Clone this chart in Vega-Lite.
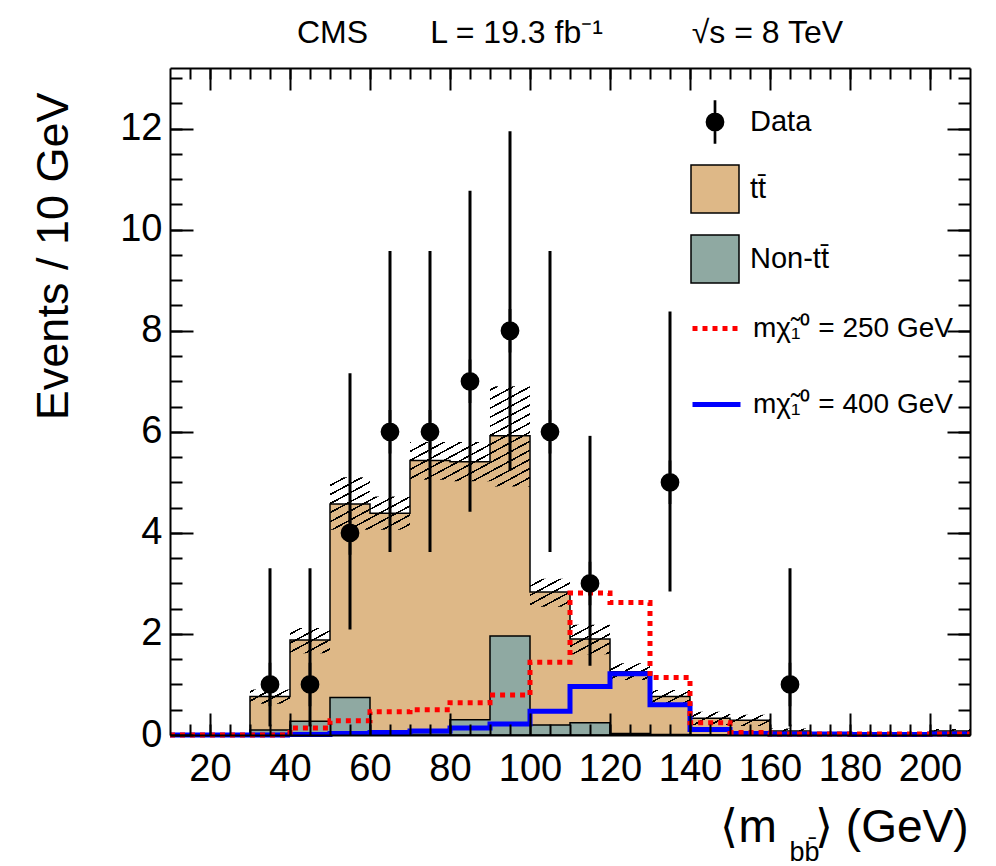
{
  "$schema": "https://vega.github.io/schema/vega-lite/v6.json",
  "width": 800,
  "height": 667,
  "autosize": {"type": "none"},
  "padding": {"left": 170, "top": 68, "right": 26, "bottom": 131},
  "background": "white",
  "config": {
    "view": {"stroke": null},
    "font": "Liberation Sans",
    "axis": {"domainColor": "black", "domainWidth": 2, "tickColor": "black", "tickWidth": 2, "labelFont": "Liberation Sans", "labelColor": "black", "titleColor": "black", "titleFont": "Liberation Sans", "titleFontWeight": "normal", "grid": false, "labelFlush": false, "labelOverlap": false},
    "legend": {"title": null}
  },
  "title": {
    "text": "CMS\u00a0\u00a0\u00a0\u00a0\u00a0\u00a0\u00a0L = 19.3 fb\u207b\u00b9\u00a0\u00a0\u00a0\u00a0\u00a0\u00a0\u00a0\u00a0\u00a0\u00a0\u221as = 8 TeV",
    "anchor": "middle",
    "frame": "group",
    "font": "Liberation Sans",
    "fontSize": 32,
    "fontWeight": "normal",
    "color": "black",
    "baseline": "alphabetic",
    "offset": -8
  },
  "datasets": {
    "hist": [
      {"lo": 10, "total": 0, "nontt": 0, "unc_hi": 0, "unc_lo": 0, "s250": 0, "s400": 0},
      {"lo": 20, "total": 0, "nontt": 0, "unc_hi": 0, "unc_lo": 0, "s250": 0, "s400": 0},
      {"lo": 30, "total": 0.76, "nontt": 0.10, "unc_hi": 0.90, "unc_lo": 0.62, "s250": 0, "s400": 0},
      {"lo": 40, "total": 1.88, "nontt": 0.27, "unc_hi": 2.12, "unc_lo": 1.62, "s250": 0.14, "s400": 0.01},
      {"lo": 50, "total": 4.57, "nontt": 0.74, "unc_hi": 5.10, "unc_lo": 4.06, "s250": 0.28, "s400": 0.03},
      {"lo": 60, "total": 4.39, "nontt": 0.03, "unc_hi": 4.72, "unc_lo": 4.06, "s250": 0.46, "s400": 0.05},
      {"lo": 70, "total": 5.43, "nontt": 0.05, "unc_hi": 5.80, "unc_lo": 5.05, "s250": 0.50, "s400": 0.08},
      {"lo": 80, "total": 5.41, "nontt": 0.30, "unc_hi": 5.80, "unc_lo": 5.02, "s250": 0.64, "s400": 0.14},
      {"lo": 90, "total": 5.92, "nontt": 1.96, "unc_hi": 6.90, "unc_lo": 4.92, "s250": 0.79, "s400": 0.22},
      {"lo": 100, "total": 2.83, "nontt": 0.20, "unc_hi": 3.09, "unc_lo": 2.54, "s250": 1.44, "s400": 0.47},
      {"lo": 110, "total": 1.90, "nontt": 0.24, "unc_hi": 2.18, "unc_lo": 1.60, "s250": 2.81, "s400": 0.96},
      {"lo": 120, "total": 1.25, "nontt": 0.03, "unc_hi": 1.42, "unc_lo": 1.09, "s250": 2.62, "s400": 1.21},
      {"lo": 130, "total": 0.76, "nontt": 0.01, "unc_hi": 0.89, "unc_lo": 0.63, "s250": 1.14, "s400": 0.60},
      {"lo": 140, "total": 0.33, "nontt": 0, "unc_hi": 0.46, "unc_lo": 0.20, "s250": 0.24, "s400": 0.11},
      {"lo": 150, "total": 0.29, "nontt": 0, "unc_hi": 0.40, "unc_lo": 0.18, "s250": 0.05, "s400": 0.03},
      {"lo": 160, "total": 0.08, "nontt": 0, "unc_hi": 0.13, "unc_lo": 0.03, "s250": 0.02, "s400": 0.02},
      {"lo": 170, "total": 0.03, "nontt": 0, "unc_hi": 0.06, "unc_lo": 0, "s250": 0.02, "s400": 0.02},
      {"lo": 180, "total": 0.01, "nontt": 0, "unc_hi": 0.02, "unc_lo": 0, "s250": 0.02, "s400": 0.01},
      {"lo": 190, "total": 0.01, "nontt": 0, "unc_hi": 0.02, "unc_lo": 0, "s250": 0.02, "s400": 0.01},
      {"lo": 200, "total": 0.08, "nontt": 0, "unc_hi": 0.12, "unc_lo": 0.04, "s250": 0.02, "s400": 0.02},
      {"lo": 210, "total": 0.08, "nontt": 0, "unc_hi": 0.12, "unc_lo": 0.04, "s250": 0.02, "s400": 0.02}
    ],
    "obs": [
      {"x": 35, "n": 1, "lo": 0.17, "hi": 3.30},
      {"x": 45, "n": 1, "lo": 0.17, "hi": 3.30},
      {"x": 55, "n": 4, "lo": 2.09, "hi": 7.16},
      {"x": 65, "n": 6, "lo": 3.62, "hi": 9.58},
      {"x": 75, "n": 6, "lo": 3.62, "hi": 9.58},
      {"x": 85, "n": 7, "lo": 4.42, "hi": 10.77},
      {"x": 95, "n": 8, "lo": 5.23, "hi": 11.95},
      {"x": 105, "n": 6, "lo": 3.62, "hi": 9.58},
      {"x": 115, "n": 3, "lo": 1.37, "hi": 5.92},
      {"x": 135, "n": 5, "lo": 2.84, "hi": 8.38},
      {"x": 165, "n": 1, "lo": 0.17, "hi": 3.30}
    ]
  },
  "layer": [
    {
      "data": {"name": "hist"},
      "mark": {"type": "area", "interpolate": "step-after", "stroke": "black", "strokeWidth": 1.5, "opacity": 1},
      "encoding": {
        "x": {"field": "lo", "type": "quantitative", "scale": {"domain": [10, 210], "nice": false, "zero": false},
          "axis": {"orient": "bottom", "values": [20, 40, 60, 80, 100, 120, 140, 160, 180, 200], "tickSize": -22, "labelFontSize": 38, "labelPadding": 37, "title": "\u27e8m\u00a0\u00a0\u00a0\u27e9 (GeV)", "titleFontSize": 46, "titleX": 798, "titleY": 106, "titleAlign": "right", "titleAnchor": "end", "titleBaseline": "alphabetic", "zindex": 1}},
        "y": {"field": "total", "type": "quantitative", "stack": null, "scale": {"domain": [0, 13.2], "nice": false},
          "axis": {"orient": "left", "values": [0, 2, 4, 6, 8, 10, 12], "tickSize": -23, "labelFontSize": 38, "labelPadding": 31, "title": "Events / 10 GeV", "titleFontSize": 45, "titleAngle": 270, "titleX": -103, "titleY": 24, "titleAlign": "right", "titleBaseline": "alphabetic", "zindex": 1}},
        "fill": {"datum": "tt\u0304", "scale": {"domain": ["Data", "tt\u0304", "Non-tt\u0304"], "range": ["black", "#DEB887", "#8FA9A2"]},
          "legend": {"orient": "none", "legendX": 520, "legendY": 29, "title": null, "padding": 0, "rowPadding": 16, "symbolSize": 2304, "symbolStrokeColor": "black", "symbolStrokeWidth": 1.5, "labelFontSize": 29, "labelFont": "Liberation Sans", "labelColor": "black", "labelOffset": 10, "labelLimit": 400}}
      }
    },
    {
      "data": {"name": "hist"},
      "mark": {"type": "area", "interpolate": "step-after", "stroke": "black", "strokeWidth": 1.5, "opacity": 1},
      "encoding": {
        "x": {"field": "lo", "type": "quantitative",
          "axis": {"orient": "bottom", "values": [15, 20, 25, 30, 35, 40, 45, 50, 55, 60, 65, 70, 75, 80, 85, 90, 95, 100, 105, 110, 115, 120, 125, 130, 135, 140, 145, 150, 155, 160, 165, 170, 175, 180, 185, 190, 195, 200, 205], "tickSize": -11, "labels": false, "domain": false, "title": "bb\u0304", "titleFontSize": 27, "titleX": 634, "titleY": 125, "titleAlign": "center", "titleBaseline": "alphabetic", "zindex": 1}},
        "y": {"field": "nontt", "type": "quantitative", "stack": null,
          "axis": {"orient": "left", "values": [0.5, 1, 1.5, 2, 2.5, 3, 3.5, 4, 4.5, 5, 5.5, 6, 6.5, 7, 7.5, 8, 8.5, 9, 9.5, 10, 10.5, 11, 11.5, 12, 12.5, 13], "tickSize": -12, "labels": false, "domain": false, "title": null, "zindex": 1}},
        "fill": {"datum": "Non-tt\u0304"}
      }
    },
    {
      "data": {"name": "hist"},
      "mark": {"type": "area", "interpolate": "step-after", "opacity": 1,
        "fill": {"gradient": "linear", "x1": 0, "y1": 0, "x2": 1.094, "y2": 0.884, "stops": [
          {"offset": 0, "color": "transparent"},
          {"offset": 0.0040, "color": "transparent"}, {"offset": 0.0040, "color": "#000"}, {"offset": 0.0063, "color": "#000"}, {"offset": 0.0063, "color": "transparent"},
          {"offset": 0.0156, "color": "transparent"}, {"offset": 0.0156, "color": "#000"}, {"offset": 0.0179, "color": "#000"}, {"offset": 0.0179, "color": "transparent"},
          {"offset": 0.0273, "color": "transparent"}, {"offset": 0.0273, "color": "#000"}, {"offset": 0.0296, "color": "#000"}, {"offset": 0.0296, "color": "transparent"},
          {"offset": 0.0389, "color": "transparent"}, {"offset": 0.0389, "color": "#000"}, {"offset": 0.0412, "color": "#000"}, {"offset": 0.0412, "color": "transparent"},
          {"offset": 0.0505, "color": "transparent"}, {"offset": 0.0505, "color": "#000"}, {"offset": 0.0528, "color": "#000"}, {"offset": 0.0528, "color": "transparent"},
          {"offset": 0.0621, "color": "transparent"}, {"offset": 0.0621, "color": "#000"}, {"offset": 0.0644, "color": "#000"}, {"offset": 0.0644, "color": "transparent"},
          {"offset": 0.0738, "color": "transparent"}, {"offset": 0.0738, "color": "#000"}, {"offset": 0.0761, "color": "#000"}, {"offset": 0.0761, "color": "transparent"},
          {"offset": 0.0854, "color": "transparent"}, {"offset": 0.0854, "color": "#000"}, {"offset": 0.0877, "color": "#000"}, {"offset": 0.0877, "color": "transparent"},
          {"offset": 0.0970, "color": "transparent"}, {"offset": 0.0970, "color": "#000"}, {"offset": 0.0993, "color": "#000"}, {"offset": 0.0993, "color": "transparent"},
          {"offset": 0.1087, "color": "transparent"}, {"offset": 0.1087, "color": "#000"}, {"offset": 0.1110, "color": "#000"}, {"offset": 0.1110, "color": "transparent"},
          {"offset": 0.1203, "color": "transparent"}, {"offset": 0.1203, "color": "#000"}, {"offset": 0.1226, "color": "#000"}, {"offset": 0.1226, "color": "transparent"},
          {"offset": 0.1319, "color": "transparent"}, {"offset": 0.1319, "color": "#000"}, {"offset": 0.1342, "color": "#000"}, {"offset": 0.1342, "color": "transparent"},
          {"offset": 0.1435, "color": "transparent"}, {"offset": 0.1435, "color": "#000"}, {"offset": 0.1458, "color": "#000"}, {"offset": 0.1458, "color": "transparent"},
          {"offset": 0.1552, "color": "transparent"}, {"offset": 0.1552, "color": "#000"}, {"offset": 0.1575, "color": "#000"}, {"offset": 0.1575, "color": "transparent"},
          {"offset": 0.1668, "color": "transparent"}, {"offset": 0.1668, "color": "#000"}, {"offset": 0.1691, "color": "#000"}, {"offset": 0.1691, "color": "transparent"},
          {"offset": 0.1784, "color": "transparent"}, {"offset": 0.1784, "color": "#000"}, {"offset": 0.1807, "color": "#000"}, {"offset": 0.1807, "color": "transparent"},
          {"offset": 0.1900, "color": "transparent"}, {"offset": 0.1900, "color": "#000"}, {"offset": 0.1923, "color": "#000"}, {"offset": 0.1923, "color": "transparent"},
          {"offset": 0.2017, "color": "transparent"}, {"offset": 0.2017, "color": "#000"}, {"offset": 0.2040, "color": "#000"}, {"offset": 0.2040, "color": "transparent"},
          {"offset": 0.2133, "color": "transparent"}, {"offset": 0.2133, "color": "#000"}, {"offset": 0.2156, "color": "#000"}, {"offset": 0.2156, "color": "transparent"},
          {"offset": 0.2249, "color": "transparent"}, {"offset": 0.2249, "color": "#000"}, {"offset": 0.2272, "color": "#000"}, {"offset": 0.2272, "color": "transparent"},
          {"offset": 0.2366, "color": "transparent"}, {"offset": 0.2366, "color": "#000"}, {"offset": 0.2389, "color": "#000"}, {"offset": 0.2389, "color": "transparent"},
          {"offset": 0.2482, "color": "transparent"}, {"offset": 0.2482, "color": "#000"}, {"offset": 0.2505, "color": "#000"}, {"offset": 0.2505, "color": "transparent"},
          {"offset": 0.2598, "color": "transparent"}, {"offset": 0.2598, "color": "#000"}, {"offset": 0.2621, "color": "#000"}, {"offset": 0.2621, "color": "transparent"},
          {"offset": 0.2714, "color": "transparent"}, {"offset": 0.2714, "color": "#000"}, {"offset": 0.2737, "color": "#000"}, {"offset": 0.2737, "color": "transparent"},
          {"offset": 0.2831, "color": "transparent"}, {"offset": 0.2831, "color": "#000"}, {"offset": 0.2854, "color": "#000"}, {"offset": 0.2854, "color": "transparent"},
          {"offset": 0.2947, "color": "transparent"}, {"offset": 0.2947, "color": "#000"}, {"offset": 0.2970, "color": "#000"}, {"offset": 0.2970, "color": "transparent"},
          {"offset": 0.3063, "color": "transparent"}, {"offset": 0.3063, "color": "#000"}, {"offset": 0.3086, "color": "#000"}, {"offset": 0.3086, "color": "transparent"},
          {"offset": 0.3180, "color": "transparent"}, {"offset": 0.3180, "color": "#000"}, {"offset": 0.3203, "color": "#000"}, {"offset": 0.3203, "color": "transparent"},
          {"offset": 0.3296, "color": "transparent"}, {"offset": 0.3296, "color": "#000"}, {"offset": 0.3319, "color": "#000"}, {"offset": 0.3319, "color": "transparent"},
          {"offset": 0.3412, "color": "transparent"}, {"offset": 0.3412, "color": "#000"}, {"offset": 0.3435, "color": "#000"}, {"offset": 0.3435, "color": "transparent"},
          {"offset": 0.3528, "color": "transparent"}, {"offset": 0.3528, "color": "#000"}, {"offset": 0.3551, "color": "#000"}, {"offset": 0.3551, "color": "transparent"},
          {"offset": 0.3645, "color": "transparent"}, {"offset": 0.3645, "color": "#000"}, {"offset": 0.3668, "color": "#000"}, {"offset": 0.3668, "color": "transparent"},
          {"offset": 0.3761, "color": "transparent"}, {"offset": 0.3761, "color": "#000"}, {"offset": 0.3784, "color": "#000"}, {"offset": 0.3784, "color": "transparent"},
          {"offset": 0.3877, "color": "transparent"}, {"offset": 0.3877, "color": "#000"}, {"offset": 0.3900, "color": "#000"}, {"offset": 0.3900, "color": "transparent"},
          {"offset": 0.3993, "color": "transparent"}, {"offset": 0.3993, "color": "#000"}, {"offset": 0.4016, "color": "#000"}, {"offset": 0.4016, "color": "transparent"},
          {"offset": 0.4110, "color": "transparent"}, {"offset": 0.4110, "color": "#000"}, {"offset": 0.4133, "color": "#000"}, {"offset": 0.4133, "color": "transparent"},
          {"offset": 0.4226, "color": "transparent"}, {"offset": 0.4226, "color": "#000"}, {"offset": 0.4249, "color": "#000"}, {"offset": 0.4249, "color": "transparent"},
          {"offset": 0.4342, "color": "transparent"}, {"offset": 0.4342, "color": "#000"}, {"offset": 0.4365, "color": "#000"}, {"offset": 0.4365, "color": "transparent"},
          {"offset": 0.4459, "color": "transparent"}, {"offset": 0.4459, "color": "#000"}, {"offset": 0.4482, "color": "#000"}, {"offset": 0.4482, "color": "transparent"},
          {"offset": 0.4575, "color": "transparent"}, {"offset": 0.4575, "color": "#000"}, {"offset": 0.4598, "color": "#000"}, {"offset": 0.4598, "color": "transparent"},
          {"offset": 0.4691, "color": "transparent"}, {"offset": 0.4691, "color": "#000"}, {"offset": 0.4714, "color": "#000"}, {"offset": 0.4714, "color": "transparent"},
          {"offset": 0.4807, "color": "transparent"}, {"offset": 0.4807, "color": "#000"}, {"offset": 0.4830, "color": "#000"}, {"offset": 0.4830, "color": "transparent"},
          {"offset": 0.4924, "color": "transparent"}, {"offset": 0.4924, "color": "#000"}, {"offset": 0.4947, "color": "#000"}, {"offset": 0.4947, "color": "transparent"},
          {"offset": 0.5040, "color": "transparent"}, {"offset": 0.5040, "color": "#000"}, {"offset": 0.5063, "color": "#000"}, {"offset": 0.5063, "color": "transparent"},
          {"offset": 0.5156, "color": "transparent"}, {"offset": 0.5156, "color": "#000"}, {"offset": 0.5179, "color": "#000"}, {"offset": 0.5179, "color": "transparent"},
          {"offset": 0.5273, "color": "transparent"}, {"offset": 0.5273, "color": "#000"}, {"offset": 0.5296, "color": "#000"}, {"offset": 0.5296, "color": "transparent"},
          {"offset": 0.5389, "color": "transparent"}, {"offset": 0.5389, "color": "#000"}, {"offset": 0.5412, "color": "#000"}, {"offset": 0.5412, "color": "transparent"},
          {"offset": 0.5505, "color": "transparent"}, {"offset": 0.5505, "color": "#000"}, {"offset": 0.5528, "color": "#000"}, {"offset": 0.5528, "color": "transparent"},
          {"offset": 0.5621, "color": "transparent"}, {"offset": 0.5621, "color": "#000"}, {"offset": 0.5644, "color": "#000"}, {"offset": 0.5644, "color": "transparent"},
          {"offset": 0.5738, "color": "transparent"}, {"offset": 0.5738, "color": "#000"}, {"offset": 0.5761, "color": "#000"}, {"offset": 0.5761, "color": "transparent"},
          {"offset": 0.5854, "color": "transparent"}, {"offset": 0.5854, "color": "#000"}, {"offset": 0.5877, "color": "#000"}, {"offset": 0.5877, "color": "transparent"},
          {"offset": 0.5970, "color": "transparent"}, {"offset": 0.5970, "color": "#000"}, {"offset": 0.5993, "color": "#000"}, {"offset": 0.5993, "color": "transparent"},
          {"offset": 0.6087, "color": "transparent"}, {"offset": 0.6087, "color": "#000"}, {"offset": 0.6110, "color": "#000"}, {"offset": 0.6110, "color": "transparent"},
          {"offset": 0.6203, "color": "transparent"}, {"offset": 0.6203, "color": "#000"}, {"offset": 0.6226, "color": "#000"}, {"offset": 0.6226, "color": "transparent"},
          {"offset": 0.6319, "color": "transparent"}, {"offset": 0.6319, "color": "#000"}, {"offset": 0.6342, "color": "#000"}, {"offset": 0.6342, "color": "transparent"},
          {"offset": 0.6435, "color": "transparent"}, {"offset": 0.6435, "color": "#000"}, {"offset": 0.6458, "color": "#000"}, {"offset": 0.6458, "color": "transparent"},
          {"offset": 0.6552, "color": "transparent"}, {"offset": 0.6552, "color": "#000"}, {"offset": 0.6575, "color": "#000"}, {"offset": 0.6575, "color": "transparent"},
          {"offset": 0.6668, "color": "transparent"}, {"offset": 0.6668, "color": "#000"}, {"offset": 0.6691, "color": "#000"}, {"offset": 0.6691, "color": "transparent"},
          {"offset": 0.6784, "color": "transparent"}, {"offset": 0.6784, "color": "#000"}, {"offset": 0.6807, "color": "#000"}, {"offset": 0.6807, "color": "transparent"},
          {"offset": 0.6900, "color": "transparent"}, {"offset": 0.6900, "color": "#000"}, {"offset": 0.6923, "color": "#000"}, {"offset": 0.6923, "color": "transparent"},
          {"offset": 0.7017, "color": "transparent"}, {"offset": 0.7017, "color": "#000"}, {"offset": 0.7040, "color": "#000"}, {"offset": 0.7040, "color": "transparent"},
          {"offset": 0.7133, "color": "transparent"}, {"offset": 0.7133, "color": "#000"}, {"offset": 0.7156, "color": "#000"}, {"offset": 0.7156, "color": "transparent"},
          {"offset": 0.7249, "color": "transparent"}, {"offset": 0.7249, "color": "#000"}, {"offset": 0.7272, "color": "#000"}, {"offset": 0.7272, "color": "transparent"},
          {"offset": 0.7366, "color": "transparent"}, {"offset": 0.7366, "color": "#000"}, {"offset": 0.7389, "color": "#000"}, {"offset": 0.7389, "color": "transparent"},
          {"offset": 0.7482, "color": "transparent"}, {"offset": 0.7482, "color": "#000"}, {"offset": 0.7505, "color": "#000"}, {"offset": 0.7505, "color": "transparent"},
          {"offset": 0.7598, "color": "transparent"}, {"offset": 0.7598, "color": "#000"}, {"offset": 0.7621, "color": "#000"}, {"offset": 0.7621, "color": "transparent"},
          {"offset": 0.7714, "color": "transparent"}, {"offset": 0.7714, "color": "#000"}, {"offset": 0.7737, "color": "#000"}, {"offset": 0.7737, "color": "transparent"},
          {"offset": 0.7831, "color": "transparent"}, {"offset": 0.7831, "color": "#000"}, {"offset": 0.7854, "color": "#000"}, {"offset": 0.7854, "color": "transparent"},
          {"offset": 0.7947, "color": "transparent"}, {"offset": 0.7947, "color": "#000"}, {"offset": 0.7970, "color": "#000"}, {"offset": 0.7970, "color": "transparent"},
          {"offset": 0.8063, "color": "transparent"}, {"offset": 0.8063, "color": "#000"}, {"offset": 0.8086, "color": "#000"}, {"offset": 0.8086, "color": "transparent"},
          {"offset": 0.8180, "color": "transparent"}, {"offset": 0.8180, "color": "#000"}, {"offset": 0.8203, "color": "#000"}, {"offset": 0.8203, "color": "transparent"},
          {"offset": 0.8296, "color": "transparent"}, {"offset": 0.8296, "color": "#000"}, {"offset": 0.8319, "color": "#000"}, {"offset": 0.8319, "color": "transparent"},
          {"offset": 0.8412, "color": "transparent"}, {"offset": 0.8412, "color": "#000"}, {"offset": 0.8435, "color": "#000"}, {"offset": 0.8435, "color": "transparent"},
          {"offset": 0.8528, "color": "transparent"}, {"offset": 0.8528, "color": "#000"}, {"offset": 0.8551, "color": "#000"}, {"offset": 0.8551, "color": "transparent"},
          {"offset": 0.8645, "color": "transparent"}, {"offset": 0.8645, "color": "#000"}, {"offset": 0.8668, "color": "#000"}, {"offset": 0.8668, "color": "transparent"},
          {"offset": 0.8761, "color": "transparent"}, {"offset": 0.8761, "color": "#000"}, {"offset": 0.8784, "color": "#000"}, {"offset": 0.8784, "color": "transparent"},
          {"offset": 0.8877, "color": "transparent"}, {"offset": 0.8877, "color": "#000"}, {"offset": 0.8900, "color": "#000"}, {"offset": 0.8900, "color": "transparent"},
          {"offset": 0.8993, "color": "transparent"}, {"offset": 0.8993, "color": "#000"}, {"offset": 0.9016, "color": "#000"}, {"offset": 0.9016, "color": "transparent"},
          {"offset": 0.9110, "color": "transparent"}, {"offset": 0.9110, "color": "#000"}, {"offset": 0.9133, "color": "#000"}, {"offset": 0.9133, "color": "transparent"},
          {"offset": 0.9226, "color": "transparent"}, {"offset": 0.9226, "color": "#000"}, {"offset": 0.9249, "color": "#000"}, {"offset": 0.9249, "color": "transparent"},
          {"offset": 0.9342, "color": "transparent"}, {"offset": 0.9342, "color": "#000"}, {"offset": 0.9365, "color": "#000"}, {"offset": 0.9365, "color": "transparent"},
          {"offset": 0.9459, "color": "transparent"}, {"offset": 0.9459, "color": "#000"}, {"offset": 0.9482, "color": "#000"}, {"offset": 0.9482, "color": "transparent"},
          {"offset": 0.9575, "color": "transparent"}, {"offset": 0.9575, "color": "#000"}, {"offset": 0.9598, "color": "#000"}, {"offset": 0.9598, "color": "transparent"},
          {"offset": 0.9691, "color": "transparent"}, {"offset": 0.9691, "color": "#000"}, {"offset": 0.9714, "color": "#000"}, {"offset": 0.9714, "color": "transparent"},
          {"offset": 0.9807, "color": "transparent"}, {"offset": 0.9807, "color": "#000"}, {"offset": 0.9830, "color": "#000"}, {"offset": 0.9830, "color": "transparent"},
          {"offset": 0.9924, "color": "transparent"}, {"offset": 0.9924, "color": "#000"}, {"offset": 0.9947, "color": "#000"}, {"offset": 0.9947, "color": "transparent"},
          {"offset": 1, "color": "transparent"}
        ]}},
      "encoding": {
        "x": {"field": "lo", "type": "quantitative", "axis": null},
        "y": {"field": "unc_hi", "type": "quantitative", "stack": null, "axis": null},
        "y2": {"field": "unc_lo"}
      }
    },
    {
      "data": {"name": "hist"},
      "mark": {"type": "line", "interpolate": "step-after", "strokeWidth": 5, "opacity": 1, "strokeCap": "butt"},
      "encoding": {
        "x": {"field": "lo", "type": "quantitative",
          "axis": {"orient": "top", "values": [20, 40, 60, 80, 100, 120, 140, 160, 180, 200], "tickSize": -22, "labels": false, "title": null, "zindex": 1}},
        "y": {"field": "s400", "type": "quantitative",
          "axis": {"orient": "right", "values": [0, 2, 4, 6, 8, 10, 12], "tickSize": -23, "labels": false, "title": null, "zindex": 1}},
        "stroke": {"datum": "m\u03c7\u0303\u2081\u2070 = 400 GeV", "scale": {"domain": ["m\u03c7\u0303\u2081\u2070 = 250 GeV", "m\u03c7\u0303\u2081\u2070 = 400 GeV"], "range": ["#FF0000", "#0000FF"]},
          "legend": {"orient": "none", "legendX": 520, "legendY": 234, "title": null, "padding": 0, "rowPadding": 35, "symbolSize": 2304, "symbolStrokeWidth": 5, "symbolType": "stroke", "labelFontSize": 28, "labelFont": "Liberation Sans", "labelColor": "black", "labelOffset": 10, "labelLimit": 400}},
        "strokeDash": {"datum": "m\u03c7\u0303\u2081\u2070 = 400 GeV", "scale": {"domain": ["m\u03c7\u0303\u2081\u2070 = 250 GeV", "m\u03c7\u0303\u2081\u2070 = 400 GeV"], "range": [[5, 5], [1, 0]]}}
      }
    },
    {
      "data": {"name": "hist"},
      "mark": {"type": "line", "interpolate": "step-after", "strokeWidth": 5, "opacity": 1, "strokeCap": "butt"},
      "encoding": {
        "x": {"field": "lo", "type": "quantitative",
          "axis": {"orient": "top", "values": [15, 20, 25, 30, 35, 40, 45, 50, 55, 60, 65, 70, 75, 80, 85, 90, 95, 100, 105, 110, 115, 120, 125, 130, 135, 140, 145, 150, 155, 160, 165, 170, 175, 180, 185, 190, 195, 200, 205], "tickSize": -11, "labels": false, "domain": false, "title": null, "zindex": 1}},
        "y": {"field": "s250", "type": "quantitative",
          "axis": {"orient": "right", "values": [0.5, 1, 1.5, 2, 2.5, 3, 3.5, 4, 4.5, 5, 5.5, 6, 6.5, 7, 7.5, 8, 8.5, 9, 9.5, 10, 10.5, 11, 11.5, 12, 12.5, 13], "tickSize": -12, "labels": false, "domain": false, "title": null, "zindex": 1}},
        "stroke": {"datum": "m\u03c7\u0303\u2081\u2070 = 250 GeV"},
        "strokeDash": {"datum": "m\u03c7\u0303\u2081\u2070 = 250 GeV"}
      }
    },
    {
      "data": {"name": "obs"},
      "mark": {"type": "rule", "color": "black", "strokeWidth": 3},
      "encoding": {
        "x": {"field": "x", "type": "quantitative", "axis": null},
        "y": {"field": "lo", "type": "quantitative", "axis": null},
        "y2": {"field": "hi"}
      }
    },
    {
      "data": {"name": "obs"},
      "mark": {"type": "point", "filled": true, "size": 2304, "opacity": 1, "stroke": "black", "strokeWidth": 1.5},
      "encoding": {
        "x": {"field": "x", "type": "quantitative", "axis": null},
        "y": {"field": "n", "type": "quantitative", "axis": null},
        "fill": {"datum": "Data"},
        "shape": {"datum": "Data", "scale": {"domain": ["Data", "tt\u0304", "Non-tt\u0304"], "range": ["M-0.025,-0.875H0.025V0.875H-0.025ZM0.36,0A0.36,0.36,0,1,1,-0.36,0A0.36,0.36,0,1,1,0.36,0Z", "square", "square"]}}
      }
    }
  ],
  "resolve": {"axis": {"x": "independent", "y": "independent"}}
}
